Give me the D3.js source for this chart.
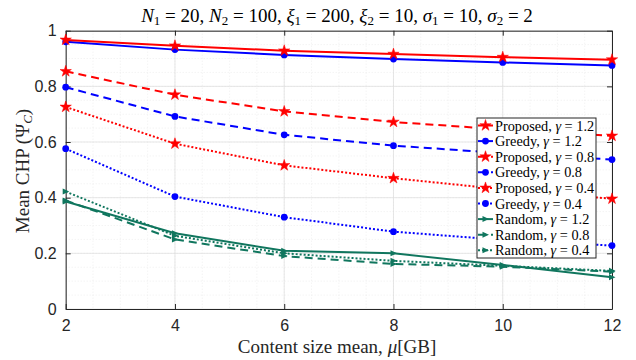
<!DOCTYPE html>
<html><head><meta charset="utf-8">
<script src="https://cdn.jsdelivr.net/npm/d3@7"></script>
<style>body{margin:0;background:#fff}svg{display:block}</style>
</head><body><div id="c"></div>
<script>
const xValues = [2, 4, 6, 8, 10, 12];
const xTicks = [2, 4, 6, 8, 10, 12];
const yTicks = [0, 0.2, 0.4, 0.6, 0.8, 1];
const yTickLabels = ["0", "0.2", "0.4", "0.6", "0.8", "1"];
const proposed12 = [0.967, 0.946, 0.928, 0.916, 0.905, 0.896];
const greedy12   = [0.960, 0.932, 0.913, 0.898, 0.886, 0.875];
const proposed08 = [0.854, 0.770, 0.710, 0.672, 0.645, 0.622];
const greedy08   = [0.797, 0.692, 0.626, 0.587, 0.560, 0.537];
const proposed04 = [0.726, 0.594, 0.516, 0.470, 0.430, 0.396];
const greedy04   = [0.576, 0.404, 0.330, 0.278, 0.248, 0.228];
const random12   = [0.386, 0.272, 0.209, 0.200, 0.158, 0.114];
const random08   = [0.390, 0.250, 0.190, 0.162, 0.152, 0.134];
const random04   = [0.422, 0.263, 0.200, 0.173, 0.155, 0.137];
const seriesNames = ["Proposed", "Greedy", "Proposed", "Greedy", "Proposed", "Greedy", "Random", "Random", "Random"];
const gammas = ["1.2", "1.2", "0.8", "0.8", "0.4", "0.4", "1.2", "0.8", "0.4"];

const RED = "#ff0000", BLUE = "#0000ff", GREEN = "#10765e";
const series = [
  {v: proposed12, c: RED, dash: null, m: "star"},
  {v: greedy12, c: BLUE, dash: null, m: "circle"},
  {v: proposed08, c: RED, dash: "8,5", m: "star"},
  {v: greedy08, c: BLUE, dash: "8,5", m: "circle"},
  {v: proposed04, c: RED, dash: "2,2", m: "star"},
  {v: greedy04, c: BLUE, dash: "2,2", m: "circle"},
  {v: random12, c: GREEN, dash: null, m: "tri"},
  {v: random08, c: GREEN, dash: "8,5", m: "tri"},
  {v: random04, c: GREEN, dash: "2,2", m: "tri"}
].map((s, i) => Object.assign(s, {name: seriesNames[i], g: gammas[i]}));

const W = 636, H = 360;
const L = 65.7, R = 612, T = 30.7, B = 309;
const svg = d3.select("#c").append("svg").attr("width", W).attr("height", H);
const x = d3.scaleLinear().domain([2, 12]).range([L, R]);
const y = d3.scaleLinear().domain([0, 1]).range([B, T]);

// minor grid
const gMinor = svg.append("g");
d3.range(2.5, 12, 0.5).forEach(v => {
  gMinor.append("line").attr("x1", x(v)).attr("x2", x(v)).attr("y1", T).attr("y2", B)
    .attr("stroke", "#e4e4e4").attr("stroke-width", 0.6).attr("stroke-dasharray", "1,2");
});
d3.range(0.05, 1, 0.05).forEach(v => {
  gMinor.append("line").attr("x1", L).attr("x2", R).attr("y1", y(v)).attr("y2", y(v))
    .attr("stroke", "#e4e4e4").attr("stroke-width", 0.6).attr("stroke-dasharray", "1,2");
});
// major grid
xTicks.forEach(v => svg.append("line").attr("x1", x(v)).attr("x2", x(v)).attr("y1", T).attr("y2", B)
  .attr("stroke", "#dcdcdc").attr("stroke-width", 0.7));
yTicks.forEach(v => svg.append("line").attr("x1", L).attr("x2", R).attr("y1", y(v)).attr("y2", y(v))
  .attr("stroke", "#dcdcdc").attr("stroke-width", 0.7));

// axes
const axB = svg.append("g").attr("transform", `translate(0,${B})`)
  .call(d3.axisBottom(x).tickValues(xTicks).tickSizeInner(-5).tickSizeOuter(0).tickPadding(11));
const axT = svg.append("g").attr("transform", `translate(0,${T})`)
  .call(d3.axisTop(x).tickValues(xTicks).tickSizeInner(-5).tickSizeOuter(0).tickFormat(""));
const axL = svg.append("g").attr("transform", `translate(${L},0)`)
  .call(d3.axisLeft(y).tickValues(yTicks).tickSizeInner(-5).tickSizeOuter(0).tickPadding(9)
    .tickFormat((d, i) => yTickLabels[i]));
const axR = svg.append("g").attr("transform", `translate(${R},0)`)
  .call(d3.axisRight(y).tickValues(yTicks).tickSizeInner(-5).tickSizeOuter(0).tickFormat(""));
[axB, axT, axL, axR].forEach(a => {
  a.selectAll("path,line").attr("stroke", "#262626").attr("stroke-width", 1);
  a.selectAll("text").attr("font-family", "Liberation Sans, Arial, sans-serif").attr("font-size", 16).attr("fill", "#262626");
});

// lines
const line = d3.line().x((d, i) => x(xValues[i])).y(d => y(d));
const starPath = d3.symbol().type(d3.symbolStar).size(40)();
const circPath = d3.symbol().type(d3.symbolCircle).size(36)();
function marker(g, type, cx, cy, c) {
  if (type === "star") g.append("path").attr("d", starPath).attr("transform", `translate(${cx},${cy})`).attr("fill", c).attr("stroke", c).attr("stroke-width", 0.5);
  else if (type === "circle") g.append("path").attr("d", circPath).attr("transform", `translate(${cx},${cy})`).attr("fill", c);
  else g.append("path").attr("d", "M-3,-3L3.5,0L-3,3Z").attr("transform", `translate(${cx},${cy})`).attr("fill", c);
}
const gl = svg.append("g");
series.slice().reverse().forEach(s => {
  gl.append("path").datum(s.v).attr("d", line).attr("fill", "none").attr("stroke", s.c)
    .attr("stroke-width", 2).attr("stroke-dasharray", s.dash);
  s.v.forEach((v, i) => marker(gl, s.m, x(xValues[i]), y(v), s.c));
});

// legend
const serif = "Liberation Serif, Times New Roman, serif";
const lg = svg.append("g");
const lx0 = 477, ly0 = 118, lw = 119, lh = 140, rowH = 15.6;
lg.append("rect").attr("x", lx0).attr("y", ly0).attr("width", lw).attr("height", lh)
  .attr("fill", "#fff").attr("stroke", "#262626").attr("stroke-width", 1);
series.forEach((s, i) => {
  const cy = ly0 + 7.5 + i * rowH;
  lg.append("line").attr("x1", lx0 + 1).attr("x2", lx0 + 16).attr("y1", cy).attr("y2", cy)
    .attr("stroke", s.c).attr("stroke-width", 2).attr("stroke-dasharray", s.dash);
  marker(lg, s.m, lx0 + 8.5, cy, s.c);
  const t = lg.append("text").attr("x", lx0 + 18).attr("y", cy + 5)
    .attr("font-family", serif).attr("font-size", 14.3).attr("fill", "#000");
  t.append("tspan").text(s.name + ", ");
  t.append("tspan").attr("font-style", "italic").text("γ");
  t.append("tspan").text(" = " + s.g);
});

// title
const title = svg.append("text").attr("x", 337).attr("y", 22).attr("text-anchor", "middle")
  .attr("font-family", serif).attr("font-size", 19).attr("fill", "#000");
const parts = [["N", "1", " = 20, "], ["N", "2", " = 100, "], ["ξ", "1", " = 200, "], ["ξ", "2", " = 10, "], ["σ", "1", " = 10, "], ["σ", "2", " = 2"]];
parts.forEach(p => {
  title.append("tspan").attr("font-style", "italic").text(p[0]);
  title.append("tspan").attr("font-size", 13).attr("dy", 3).text(p[1]);
  title.append("tspan").attr("dy", -3).text(p[2]);
});

// x label
const xl = svg.append("text").attr("x", 337).attr("y", 353).attr("text-anchor", "middle")
  .attr("font-family", serif).attr("font-size", 19).attr("fill", "#262626");
xl.append("tspan").text("Content size mean, ");
xl.append("tspan").attr("font-style", "italic").text("μ");
xl.append("tspan").text("[GB]");

// y label
const yl = svg.append("text").attr("transform", "translate(29,171) rotate(-90)").attr("text-anchor", "middle")
  .attr("font-family", serif).attr("font-size", 19).attr("fill", "#262626");
yl.append("tspan").text("Mean CHP (Ψ");
yl.append("tspan").attr("font-style", "italic").attr("font-size", 13).attr("dy", 3).text("C");
yl.append("tspan").attr("dy", -3).text(")");
</script></body></html>
